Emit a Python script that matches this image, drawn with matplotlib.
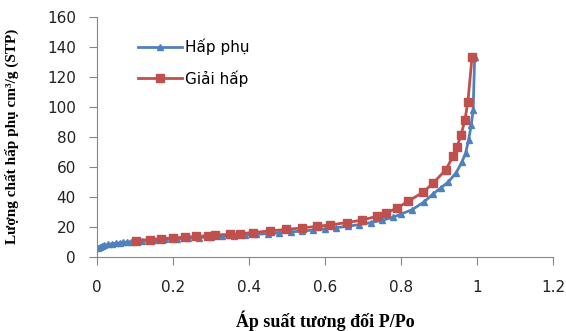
import matplotlib
matplotlib.use("Agg")
import matplotlib.pyplot as plt

# Hấp phụ (adsorption)
ads_x = [0.003, 0.008, 0.013, 0.02, 0.03, 0.04, 0.05, 0.06, 0.07, 0.08, 0.09, 0.10,
         0.12, 0.15, 0.18, 0.21, 0.24, 0.27, 0.30, 0.33, 0.36, 0.39, 0.42, 0.45,
         0.48, 0.51, 0.54, 0.57, 0.60, 0.63, 0.66, 0.69, 0.72, 0.75, 0.78, 0.80,
         0.83, 0.86, 0.885, 0.905, 0.925, 0.945, 0.96, 0.97, 0.978, 0.985, 0.99, 0.994]
ads_y = [6.0, 6.8, 7.3, 7.8, 8.3, 8.7, 9.0, 9.3, 9.6, 9.9, 10.1, 10.3,
         10.7, 11.2, 11.7, 12.1, 12.5, 12.9, 13.3, 13.7, 14.1, 14.5, 15.0, 15.5,
         16.0, 16.6, 17.2, 17.9, 18.7, 19.5, 20.4, 21.5, 22.8, 24.3, 26.5, 28.5,
         31.5, 36.5, 42, 46, 50, 56, 63, 69, 78, 88, 98, 133]

# Giải hấp (desorption)
des_x = [0.104, 0.139, 0.170, 0.201, 0.232, 0.262, 0.293, 0.311, 0.350, 0.376,
         0.411, 0.455, 0.499, 0.539, 0.578, 0.613, 0.657, 0.697, 0.736, 0.762,
         0.790, 0.818, 0.858, 0.884, 0.918, 0.937, 0.947, 0.958, 0.968, 0.976, 0.987]
des_y = [10.9, 11.5, 12.1, 12.6, 13.1, 13.6, 14.1, 14.4, 15.0, 15.5,
         16.2, 17.3, 18.3, 19.3, 20.3, 21.3, 22.8, 24.5, 27.0, 29.5,
         32.5, 37, 43, 49, 58, 67, 73, 81, 91, 103, 133]

x_ticks = [0, 0.2, 0.4, 0.6, 0.8, 1, 1.2]
x_tick_labels = ["0", "0.2", "0.4", "0.6", "0.8", "1", "1.2"]
y_ticks = [0, 20, 40, 60, 80, 100, 120, 140, 160]

blue = "#4F81BD"
red = "#C0504D"
grey = "#868686"

fig = plt.figure(figsize=(5.66, 3.31), dpi=100)
ax = fig.add_axes([0.171, 0.224, 0.806, 0.725])

ax.plot(ads_x, ads_y, color=blue, lw=2, marker="^", ms=5, label="Hấp phụ")
ax.plot(des_x, des_y, color=red, lw=2, marker="s", ms=6, label="Giải hấp")

ax.set_xlim(0, 1.2)
ax.set_ylim(0, 160)
ax.set_xticks(x_ticks)
ax.set_xticklabels(x_tick_labels)
ax.set_yticks(y_ticks)

for s in ["top", "right"]:
    ax.spines[s].set_visible(False)
for s in ["left", "bottom"]:
    ax.spines[s].set_color(grey)
ax.tick_params(axis="x", direction="out", length=6, color=grey, labelsize=11,
               labelcolor="#222222", pad=11)
ax.tick_params(axis="y", direction="out", length=6, color=grey, labelsize=11,
               labelcolor="#222222", pad=9)

ax.set_xlabel("Áp suất tương đối P/Po", family="Liberation Serif",
              fontweight="bold", fontsize=13, labelpad=11)
ax.set_ylabel("Lượng chất hấp phụ cm³/g (STP)", family="Liberation Serif",
              fontweight="bold", fontsize=11)
ax.yaxis.set_label_coords(-0.171, 0.5)

leg = ax.legend(loc="upper left", bbox_to_anchor=(0.09, 0.91), frameon=False,
                prop={"size": 11}, handlelength=2.9, handletextpad=0.2,
                labelspacing=1.0, borderaxespad=0, borderpad=0)

fig.savefig("out.png", dpi=100)
